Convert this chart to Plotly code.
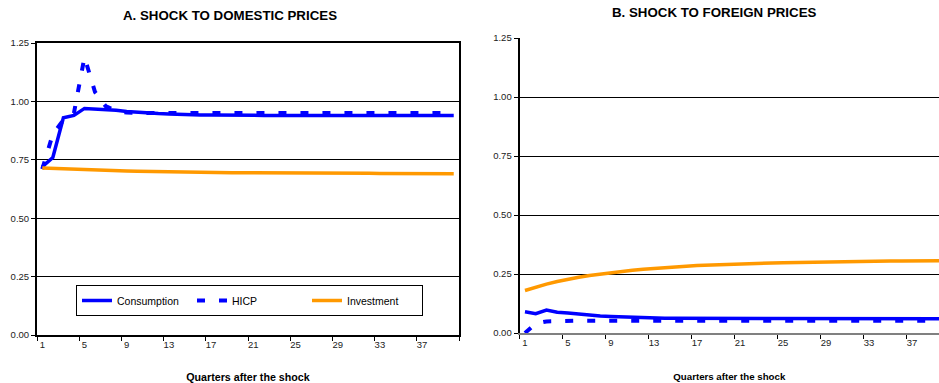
import plotly.graph_objects as go

# Quarters after the shock
quarters = list(range(1, 41))

# Panel A: shock to domestic prices
dom_consumption = [0.72, 0.76, 0.93, 0.94, 0.97, 0.968, 0.966, 0.962, 0.957, 0.953,
                   0.950, 0.948, 0.946, 0.944, 0.943, 0.942, 0.942, 0.941, 0.941, 0.941,
                   0.940, 0.940, 0.940, 0.940, 0.940, 0.940, 0.940, 0.940, 0.940, 0.940,
                   0.940, 0.940, 0.940, 0.940, 0.940, 0.940, 0.940, 0.940, 0.940, 0.940]
dom_hicp = [0.71, 0.86, 0.92, 0.95, 1.19, 1.04, 0.98, 0.96, 0.952, 0.950,
            0.950, 0.950, 0.950, 0.950, 0.950, 0.950, 0.950, 0.950, 0.950, 0.950,
            0.950, 0.950, 0.950, 0.950, 0.950, 0.950, 0.950, 0.950, 0.950, 0.950,
            0.950, 0.950, 0.950, 0.950, 0.950, 0.950, 0.950, 0.950, 0.950, 0.950]
dom_investment = [0.715, 0.713, 0.711, 0.709, 0.707, 0.705, 0.704, 0.703, 0.702, 0.701,
                  0.700, 0.699, 0.698, 0.698, 0.697, 0.697, 0.696, 0.696, 0.695, 0.695,
                  0.695, 0.694, 0.694, 0.694, 0.693, 0.693, 0.693, 0.693, 0.692, 0.692,
                  0.692, 0.692, 0.691, 0.691, 0.691, 0.691, 0.690, 0.690, 0.690, 0.690]

# Panel B: shock to foreign prices
for_consumption = [0.090, 0.082, 0.097, 0.088, 0.085, 0.080, 0.075, 0.072, 0.070, 0.068,
                   0.066, 0.065, 0.064, 0.063, 0.062, 0.062, 0.061, 0.061, 0.060, 0.060,
                   0.060, 0.060, 0.060, 0.060, 0.060, 0.060, 0.060, 0.060, 0.060, 0.060,
                   0.060, 0.060, 0.060, 0.060, 0.060, 0.060, 0.060, 0.060, 0.060, 0.060]
for_hicp = [0.000, 0.040, 0.049, 0.051, 0.052, 0.052, 0.052, 0.052, 0.052, 0.052,
            0.052, 0.052, 0.052, 0.052, 0.052, 0.052, 0.052, 0.052, 0.052, 0.052,
            0.052, 0.052, 0.052, 0.052, 0.052, 0.052, 0.052, 0.052, 0.052, 0.052,
            0.052, 0.052, 0.052, 0.052, 0.052, 0.052, 0.052, 0.052, 0.052, 0.052]
for_investment = [0.180, 0.195, 0.207, 0.218, 0.228, 0.236, 0.244, 0.250, 0.256, 0.261,
                  0.266, 0.270, 0.274, 0.277, 0.280, 0.283, 0.286, 0.288, 0.290, 0.292,
                  0.293, 0.295, 0.296, 0.297, 0.298, 0.299, 0.300, 0.301, 0.302, 0.302,
                  0.303, 0.303, 0.304, 0.304, 0.305, 0.305, 0.305, 0.306, 0.306, 0.306]

x_tick_vals = [1, 5, 9, 13, 17, 21, 25, 29, 33, 37]
x_tick_text = [str(v) for v in x_tick_vals]
y_tick_vals = [0.0, 0.25, 0.5, 0.75, 1.0, 1.25]
y_tick_text = ["0.00", "0.25", "0.50", "0.75", "1.00", "1.25"]
series_names = ["Consumption", "HICP", "Investment"]

BLUE = "#0000FF"
ORANGE = "#FF9900"
FONT = "Liberation Sans, Arial, sans-serif"

fig = go.Figure()

panels = [
    ("x", "y", dom_consumption, dom_hicp, dom_investment, True),
    ("x2", "y2", for_consumption, for_hicp, for_investment, False),
]
for xa, ya, cons, hicp, inv, show in panels:
    fig.add_trace(go.Scatter(x=quarters, y=cons, xaxis=xa, yaxis=ya, mode="lines",
                             name=series_names[0], showlegend=show,
                             line=dict(color=BLUE, width=3.5)))
    fig.add_trace(go.Scatter(x=quarters, y=hicp, xaxis=xa, yaxis=ya, mode="lines",
                             name=series_names[1], showlegend=show,
                             line=dict(color=BLUE, width=4, dash="8px,14px")))
    fig.add_trace(go.Scatter(x=quarters, y=inv, xaxis=xa, yaxis=ya, mode="lines",
                             name=series_names[2], showlegend=show,
                             line=dict(color=ORANGE, width=3.5)))

W, H = 939, 383


def xdom(a, b):
    return [a / W, b / W]


def ydom(top, bottom):
    return [(H - bottom) / H, (H - top) / H]


def x_axis(title_size, standoff):
    return dict(
        tickmode="array", tickvals=x_tick_vals, ticktext=x_tick_text, ticks="",
        showgrid=False, zeroline=False, showline=True, linewidth=2, automargin=False,
        tickfont=dict(family=FONT, size=9.5, color="#222"),
        minor=dict(tickvals=[0.5 + 4 * k for k in range(11)], ticks="outside",
                   ticklen=4, tickwidth=1, tickcolor="black"),
        title=dict(text="<b>Quarters after the shock</b>",
                   font=dict(family=FONT, size=title_size, color="black"),
                   standoff=standoff),
    )


common_y = dict(
    range=[0, 1.25], tickmode="array", tickvals=y_tick_vals, ticktext=y_tick_text,
    ticks="outside", ticklen=4, tickcolor="black", showgrid=True, gridcolor="black",
    gridwidth=1, zeroline=False, showline=True, linecolor="black", linewidth=2,
    automargin=False, tickfont=dict(family=FONT, size=9.5, color="#222"),
)

fig.update_layout(
    width=W, height=H, margin=dict(l=0, r=0, t=0, b=0),
    paper_bgcolor="white", plot_bgcolor="white",
    font=dict(family=FONT, color="black"),
    xaxis=dict(x_axis(10.7, 27), domain=xdom(37, 459), range=[0.5, 40.5], anchor="y",
               linecolor="black", mirror=True),
    yaxis=dict(common_y, domain=ydom(43, 335), anchor="x", mirror=True),
    xaxis2=dict(x_axis(9.7, 26), domain=xdom(519.6, W), range=[0.5, 39.5], anchor="y2",
                linecolor="#808080"),
    yaxis2=dict(common_y, domain=ydom(38, 333), anchor="x2"),
    legend=dict(orientation="h", x=76 / W, y=(H - 285) / H, xanchor="left", yanchor="top",
                bordercolor="black", borderwidth=1, bgcolor="white",
                font=dict(family=FONT, size=10.5, color="black"),
                entrywidth=70, entrywidthmode="pixels", tracegroupgap=0),
    annotations=[
        dict(text="<b>A. SHOCK TO DOMESTIC PRICES</b>", x=230 / W, y=(H - 16) / H,
             xref="paper", yref="paper", showarrow=False, xanchor="center", yanchor="middle",
             font=dict(family=FONT, size=13.3, color="black")),
        dict(text="<b>B. SHOCK TO FOREIGN PRICES</b>", x=714 / W, y=(H - 13) / H,
             xref="paper", yref="paper", showarrow=False, xanchor="center", yanchor="middle",
             font=dict(family=FONT, size=13.3, color="black")),
    ],
)

fig.write_html("out.html")
